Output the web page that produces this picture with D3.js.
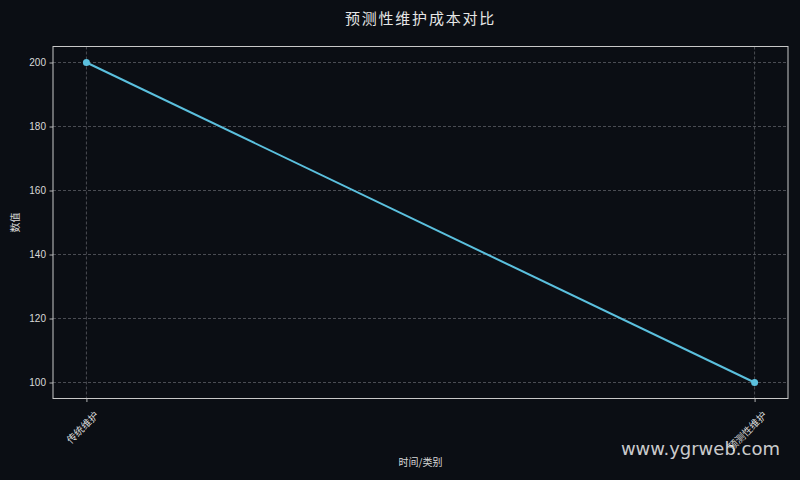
<!DOCTYPE html>
<html>
<head>
<meta charset="utf-8">
<script src="https://cdn.jsdelivr.net/npm/d3@7"></script>
<style>
  html, body { margin: 0; padding: 0; background: #0b0e14; }
  svg { display: block; }
</style>
</head>
<body>
<svg id="chart"></svg>
<script>
// chart data
var categories = ["传统维护", "预测性维护"];
var costValues = [200, 100];
var yTicks = [100, 120, 140, 160, 180, 200];

var drawChart = function(svgSelector) {
    let width = 800,
        height = 480,
        margin = {top: 46.5, right: 12, bottom: 81.5, left: 53},
        fontFamily = "'Noto Sans CJK SC', 'DejaVu Sans', sans-serif",
        numFont = "'Liberation Sans', Arial, sans-serif",
        textColor = "#d9d9d9",
        lineColor = "#5bc0de";

    let svg = d3.select(svgSelector)
        .attr("width", width)
        .attr("height", height)
        .attr("viewBox", [0, 0, width, height].join(" "));

    svg.append("rect")
        .attr("width", width)
        .attr("height", height)
        .attr("fill", "#0b0e14");

    let plotW = width - margin.left - margin.right,
        plotH = height - margin.top - margin.bottom;

    // matplotlib-like 5% margins
    let x = d3.scaleLinear()
            .domain([-0.05, categories.length - 1 + 0.05])
            .range([0, plotW]),
        y = d3.scaleLinear()
            .domain([95, 205])
            .range([plotH, 0]);

    let g = svg.append("g")
        .attr("transform", `translate(${margin.left},${margin.top})`);

    // grid
    g.append("g")
        .selectAll("line")
        .data(yTicks)
        .enter()
        .append("line")
        .attr("x1", 0)
        .attr("x2", plotW)
        .attr("y1", (d) => y(d))
        .attr("y2", (d) => y(d))
        .attr("stroke", "#5a5d63")
        .attr("stroke-width", 0.8)
        .attr("stroke-dasharray", "3,2");

    g.append("g")
        .selectAll("line")
        .data(categories)
        .enter()
        .append("line")
        .attr("x1", (d, i) => x(i))
        .attr("x2", (d, i) => x(i))
        .attr("y1", 0)
        .attr("y2", plotH)
        .attr("stroke", "#5a5d63")
        .attr("stroke-width", 0.8)
        .attr("stroke-dasharray", "3,2");

    // axes
    let yAxis = g.append("g")
        .call(d3.axisLeft(y).tickValues(yTicks).tickSize(3.5).tickPadding(3.5));
    let xAxis = g.append("g")
        .attr("transform", `translate(0,${plotH})`)
        .call(d3.axisBottom(x)
            .tickValues(categories.map((d, i) => i))
            .tickFormat((i) => categories[i])
            .tickSize(3.5)
            .tickPadding(3.5));

    [yAxis, xAxis].forEach((ax) => {
        ax.select(".domain").remove();
        ax.selectAll(".tick line").attr("stroke", textColor).attr("stroke-width", 0.8);
        ax.selectAll(".tick text")
            .attr("fill", textColor)
            .attr("font-size", 10)
            .attr("font-family", fontFamily);
    });
    yAxis.selectAll(".tick text").attr("font-family", numFont);

    xAxis.selectAll(".tick text")
        .attr("text-anchor", "end")
        .attr("dy", "0.35em")
        .attr("transform", "translate(5,10) rotate(-45)");

    // frame
    g.append("rect")
        .attr("width", plotW)
        .attr("height", plotH)
        .attr("fill", "none")
        .attr("stroke", "#c8c8c8")
        .attr("stroke-width", 1);

    // line + points
    let line = d3.line()
        .x((d, i) => x(i))
        .y((d) => y(d));

    g.append("path")
        .datum(costValues)
        .attr("d", line)
        .attr("fill", "none")
        .attr("stroke", lineColor)
        .attr("stroke-width", 2);

    g.append("g")
        .selectAll("circle")
        .data(costValues)
        .enter()
        .append("circle")
        .attr("cx", (d, i) => x(i))
        .attr("cy", (d) => y(d))
        .attr("r", 3.5)
        .attr("fill", lineColor);

    // title and labels
    svg.append("text")
        .text("预测性维护成本对比")
        .attr("x", margin.left + plotW / 2)
        .attr("y", 24)
        .attr("text-anchor", "middle")
        .attr("font-size", 15)
        .attr("letter-spacing", 1.8)
        .attr("font-family", fontFamily)
        .attr("fill", "#e6e6e6");

    svg.append("text")
        .text("时间/类别")
        .attr("x", margin.left + plotW / 2)
        .attr("y", 466)
        .attr("text-anchor", "middle")
        .attr("font-size", 10)
        .attr("font-family", fontFamily)
        .attr("fill", textColor);

    svg.append("text")
        .text("数值")
        .attr("transform", `translate(19,${margin.top + plotH / 2}) rotate(-90)`)
        .attr("text-anchor", "middle")
        .attr("font-size", 10)
        .attr("font-family", fontFamily)
        .attr("fill", textColor);

    // watermark
    svg.append("text")
        .text("www.ygrweb.com")
        .attr("x", 780)
        .attr("y", 455)
        .attr("text-anchor", "end")
        .attr("font-size", 18)
        .attr("font-family", "'DejaVu Sans', sans-serif")
        .attr("fill", "#ffffff")
        .attr("fill-opacity", 0.8);
}

drawChart("#chart");
</script>
</body>
</html>
